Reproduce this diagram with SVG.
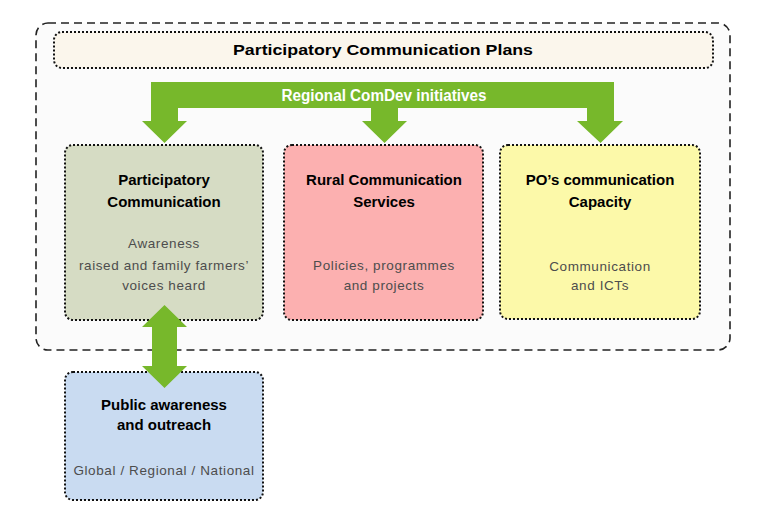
<svg xmlns="http://www.w3.org/2000/svg" width="766" height="528" viewBox="0 0 766 528">
  <style>
    .box { stroke: #111; stroke-width: 2; stroke-dasharray: 2 2; }
    .ttl { font-family: "Liberation Sans", Arial, sans-serif; font-weight: bold; font-size: 15px; fill: #000; text-anchor: middle; }
    .sub { font-family: "Liberation Sans", Arial, sans-serif; font-size: 13.5px; letter-spacing: 0.6px; fill: #4d4d4d; text-anchor: middle; }
    .arrow { fill: #77b82b; }
  </style>
  <rect width="766" height="528" fill="#ffffff"/>
  <g id="container">
    <rect x="36" y="23" width="694" height="327" rx="12" fill="#fbfbfb" stroke="#222" stroke-width="1.6" stroke-dasharray="8 5"/>
  </g>
  <g id="plans">
    <rect class="box" x="54" y="32" width="659" height="36" rx="8" fill="#fbf6ec"/>
    <text class="ttl" x="383" y="55" font-size="17.8px" textLength="300" lengthAdjust="spacingAndGlyphs">Participatory Communication Plans</text>
  </g>
  <g id="participatory">
    <rect class="box" x="65" y="145" width="198" height="175" rx="8" fill="#d6dcc4"/>
    <text class="ttl" x="164" y="185">Participatory</text>
    <text class="ttl" x="164" y="207">Communication</text>
    <text class="sub" x="164" y="248">Awareness</text>
    <text class="sub" x="164" y="270">raised and family farmers’</text>
    <text class="sub" x="164" y="290">voices heard</text>
  </g>
  <g id="rural">
    <rect class="box" x="284" y="145" width="199" height="175" rx="8" fill="#fcb0b0"/>
    <text class="ttl" x="384" y="185">Rural Communication</text>
    <text class="ttl" x="384" y="207">Services</text>
    <text class="sub" x="384" y="270">Policies, programmes</text>
    <text class="sub" x="384" y="290">and projects</text>
  </g>
  <g id="po">
    <rect class="box" x="500" y="145" width="200" height="174" rx="8" fill="#fcf9a9"/>
    <text class="ttl" x="600" y="185">PO’s communication</text>
    <text class="ttl" x="600" y="207">Capacity</text>
    <text class="sub" x="600" y="271">Communication</text>
    <text class="sub" x="600" y="290">and ICTs</text>
  </g>
  <g id="public">
    <rect class="box" x="65" y="372" width="198" height="128" rx="8" fill="#c9dbf1"/>
    <text class="ttl" x="164" y="410">Public awareness</text>
    <text class="ttl" x="164" y="430">and outreach</text>
    <text class="sub" x="164" y="475">Global / Regional / National</text>
  </g>
  <g id="connectors">
    <path class="arrow" d="M151,82 H614 V121 H623 L600.5,143 L577,121 H587 V108 H398 V121 H407 L384.5,143 L362,121 H371 V108 H178 V121 H187 L164.5,143 L142,121 H151 Z"/>
    <text x="384" y="101" font-family="Liberation Sans, Arial, sans-serif" font-weight="bold" font-size="16px" fill="#ffffff" text-anchor="middle" textLength="205" lengthAdjust="spacingAndGlyphs">Regional ComDev initiatives</text>
    <path class="arrow" d="M164.5,305 L187,327 H177 V366 H187 L164.5,388 L142,366 H152 V327 H142 Z"/>
  </g>
</svg>
